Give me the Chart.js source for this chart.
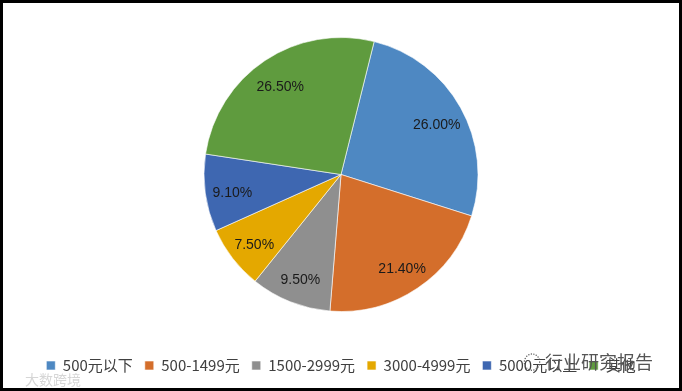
<!DOCTYPE html>
<html>
<head>
<meta charset="utf-8">
<script src="https://cdn.jsdelivr.net/npm/chart.js@4"></script>
<style>
  html, body { margin: 0; padding: 0; background: #000; }
  #frame { position: absolute; left: 3px; top: 3px; width: 676px; height: 385px; background: #fff; }
  #wm1 { position: absolute; left: 22px; top: 366px; font: 14px 'Noto Sans CJK SC'; color: #d6d6d6; }
  #wm2 { position: absolute; left: 520px; top: 345px; font: 18px 'Noto Sans CJK SC'; color: #555; }
</style>
</head>
<body>
<div id="frame">
  <canvas id="pieChart" width="676" height="385"></canvas>
  <div id="wm1">大数跨境</div>
  <div id="wm2">◌ 行业研究报告</div>
</div>
<script>
// pie chart
const labels = ['500元以下', '500-1499元', '1500-2999元', '3000-4999元', '5000元以上', '其他'];
const shares = [26.0, 21.4, 9.5, 7.5, 9.1, 26.5];
const colors = ['#4E88C2', '#D46E2B', '#8F8F8F', '#E4A800', '#3E67B1', '#5F9B3E'];

// percent labels inside the slices
const sliceLabels = {
    id: 'sliceLabels',
    afterDatasetsDraw(chart) {
        const c = chart.ctx;
        c.save();
        c.font = '14px "Liberation Sans", sans-serif';
        c.fillStyle = '#1a1a1a';
        c.textAlign = 'center';
        c.textBaseline = 'middle';
        chart.getDatasetMeta(0).data.forEach((arc, i) => {
            const mid = (arc.startAngle + arc.endAngle) / 2;
            const r = arc.outerRadius * 0.8;
            c.fillText(shares[i].toFixed(2) + '%', arc.x + Math.cos(mid) * r, arc.y + Math.sin(mid) * r + 4);
        });
        c.restore();
    }
};

const ctx = document.getElementById('pieChart').getContext('2d');
const pieChart = new Chart(ctx, {
    type: 'pie',
    data: {
        labels: labels,
        datasets: [{
            data: shares,
            backgroundColor: colors,
            borderColor: '#ffffff',
            borderWidth: 0.6,
            radius: 137
        }]
    },
    options: {
        responsive: false,
        animation: false,
        rotation: 14,
        layout: {
            padding: { top: 0, bottom: 5, left: 0, right: 0 }
        },
        plugins: {
            legend: {
                display: true,
                position: 'bottom',
                labels: {
                    boxWidth: 9,
                    boxHeight: 9,
                    padding: 12,
                    color: '#404040',
                    font: { size: 15, family: '"Noto Sans CJK SC"' }
                }
            },
            tooltip: { enabled: false }
        }
    },
    plugins: [sliceLabels]
});
</script>
</body>
</html>
